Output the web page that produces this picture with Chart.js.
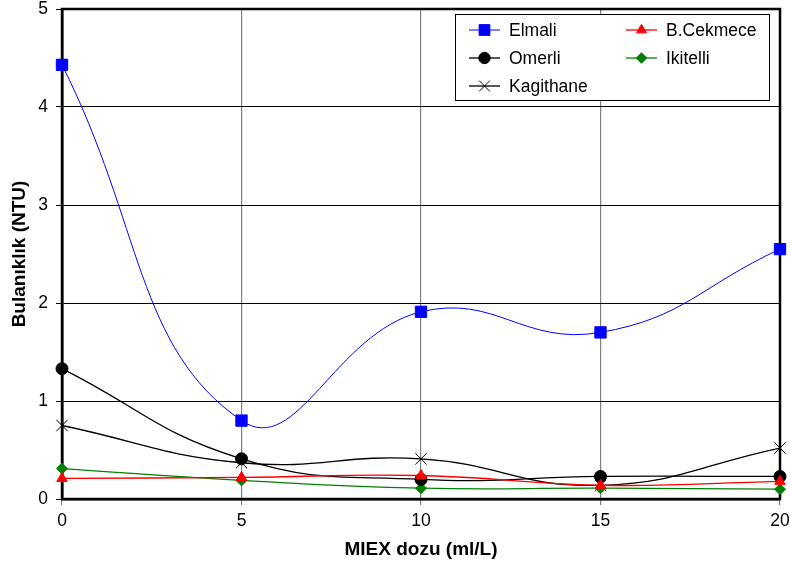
<!DOCTYPE html>
<html>
<head>
<meta charset="utf-8">
<script src="https://cdn.jsdelivr.net/npm/chart.js@4/dist/chart.umd.min.js"></script>
<style>
  html, body { margin: 0; padding: 0; background: #fff; }
  #wrap { width: 790px; height: 573px; }
</style>
</head>
<body>
<div id="wrap"><canvas id="grafico"></canvas></div>
<script>
// doz değerleri (ml/L)
const dozlar = [0, 5, 10, 15, 20];
const yTikler = [0, 1, 2, 3, 4, 5];

// bulanıklık ölçümleri (NTU)
const elmali    = [4.43, 0.80, 1.91, 1.70, 2.55];
const bCekmece  = [0.21, 0.22, 0.24, 0.14, 0.18];
const omerli    = [1.33, 0.41, 0.20, 0.23, 0.23];
const ikitelli  = [0.31, 0.19, 0.11, 0.11, 0.10];
const kagithane = [0.75, 0.37, 0.41, 0.14, 0.52];

const yazi = "Arial, 'Liberation Sans', sans-serif";

function seri(ad, degerler, renk, nokta, yaricap, kalinlik) {
  return {
    label: ad,
    data: dozlar.map((x, i) => ({ x: x, y: degerler[i] })),
    borderColor: renk,
    backgroundColor: renk,
    borderWidth: kalinlik,
    pointStyle: nokta,
    pointRadius: yaricap,
    pointBorderColor: renk,
    pointBackgroundColor: renk,
    pointBorderWidth: 1,
    tension: 0.45,
    clip: false,
    fill: false
  };
}

const veriSetleri = [
  seri('Elmali', elmali, '#0000ff', 'rect', 8, 1),
  seri('B.Cekmece', bCekmece, '#ff0000', 'triangle', 6, 1.3),
  seri('Omerli', omerli, '#000000', 'circle', 6, 1.3),
  seri('Ikitelli', ikitelli, '#008000', 'rectRot', 5.5, 1.3),
  seri('Kagithane', kagithane, '#000000', 'crossRot', 8, 1.3)
];

// çizim alanının çerçevesi (serilerin altında) ve kutulu lejant
const cerceve = {
  id: 'cerceve',
  beforeDatasetsDraw(chart) {
    const { ctx, chartArea: a } = chart;
    ctx.save();
    ctx.strokeStyle = '#000';
    ctx.lineWidth = 2.5;
    ctx.strokeRect(a.left, a.top, a.right - a.left, a.bottom - a.top);
    ctx.restore();
  },
  afterDraw(chart) {
    const { ctx } = chart;
    ctx.save();
    const kx = 455, ky = 14, kw = 314, kh = 86;
    ctx.fillStyle = '#fff';
    ctx.fillRect(kx, ky, kw, kh);
    ctx.strokeStyle = '#000';
    ctx.lineWidth = 1;
    ctx.strokeRect(kx + 0.5, ky + 0.5, kw, kh);

    const yerler = [
      [469, 30], [626, 30],
      [469, 58], [626, 58],
      [469, 86]
    ];
    ctx.font = '17.5px ' + yazi;
    ctx.textBaseline = 'middle';
    chart.data.datasets.forEach((ds, i) => {
      const [x, y] = yerler[i];
      ctx.strokeStyle = ds.borderColor;
      ctx.lineWidth = ds.borderWidth;
      ctx.beginPath();
      ctx.moveTo(x, y);
      ctx.lineTo(x + 31, y);
      ctx.stroke();
      ctx.fillStyle = ds.pointBackgroundColor;
      ctx.strokeStyle = ds.pointBorderColor;
      ctx.lineWidth = 1;
      Chart.helpers.drawPoint(ctx, {
        pointStyle: ds.pointStyle,
        radius: ds.pointRadius * 0.95,
        rotation: 0,
        borderWidth: 1
      }, x + 15.5, y);
      ctx.fillStyle = '#000';
      ctx.fillText(ds.label, x + 40, y + 1);
    });
    ctx.restore();
  }
};

new Chart(document.getElementById('grafico'), {
  type: 'line',
  data: { datasets: veriSetleri },
  options: {
    responsive: true,
    maintainAspectRatio: false,
    animation: false,
    layout: { padding: { top: 8, right: 10, left: 0, bottom: 0 } },
    plugins: {
      legend: { display: false },
      tooltip: { enabled: false }
    },
    scales: {
      x: {
        type: 'linear',
        min: 0,
        max: 20,
        afterBuildTicks: s => { s.ticks = dozlar.map(v => ({ value: v })); },
        afterFit: s => {
          s.height = 74;
          s.paddingLeft = 0;
          s.paddingRight = 0;
        },
        grid: { color: '#808080', lineWidth: 1.2, tickLength: 6 },
        border: { color: '#000', width: 2.5 },
        ticks: { color: '#000', font: { family: yazi, size: 17.5 }, padding: 6, maxRotation: 0 },
        title: {
          display: true,
          text: 'MIEX dozu (ml/L)',
          color: '#000',
          font: { family: yazi, size: 19, weight: 'bold' },
          padding: { top: 0, bottom: 11.5 }
        }
      },
      y: {
        min: 0,
        max: 5,
        afterBuildTicks: s => { s.ticks = yTikler.map(v => ({ value: v })); },
        afterFit: s => {
          s.width = 62;
          s.paddingTop = 0;
          s.paddingBottom = 0;
        },
        grid: { color: '#000', lineWidth: 1, tickLength: 6 },
        border: { color: '#000', width: 2.5 },
        ticks: { color: '#000', font: { family: yazi, size: 17.5 }, padding: 8 },
        title: {
          display: true,
          text: 'Bulanıklık (NTU)',
          color: '#000',
          font: { family: yazi, size: 19, weight: 'bold' },
          padding: { top: 8.5, bottom: 0 }
        }
      }
    }
  },
  plugins: [cerceve]
});
</script>
</body>
</html>
